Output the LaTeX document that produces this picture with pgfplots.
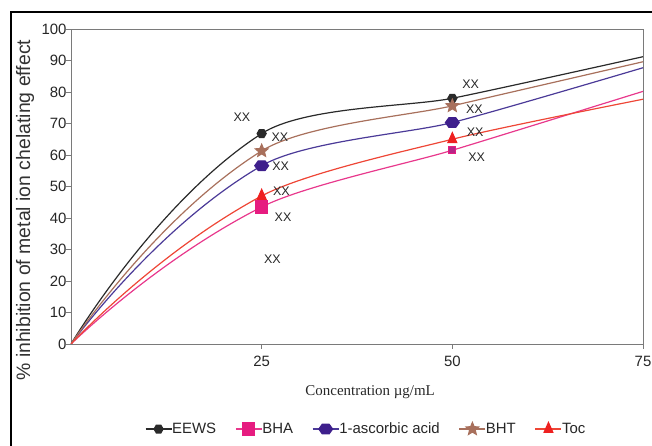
\documentclass[border=0pt]{standalone}
\usepackage{fontspec}
\setmainfont{Liberation Serif}
\setsansfont{Liberation Sans}
\usepackage{pgfplots}
\usepackage{pgfplotstable}
\pgfplotsset{compat=1.18}

\definecolor{ceews}{HTML}{2A2A2A}
\definecolor{cbha}{HTML}{E8388C}
\definecolor{cbham}{HTML}{E61C80}
\definecolor{casc}{HTML}{4B3A98}
\definecolor{cascm}{HTML}{3E1F8C}
\definecolor{cbht}{HTML}{A8705C}
\definecolor{ctoc}{HTML}{EE4636}
\definecolor{ctocm}{HTML}{EE2020}
\definecolor{caxis}{HTML}{7A7A7A}

\pgfplotstableread{
x  eews  bha   asc   bht   toc
0  0     0     0     0     0
25 66.8  43.5  56.6  61.3  47
50 78    61.5  70.3  75.6  65
75 91.2  80.2  87.7  89.6  77.7
}\data

\pgfdeclareplotmark{hex*}{%
 \pgfpathmoveto{\pgfqpoint{\pgfplotmarksize}{0pt}}%
 \pgfpathlineto{\pgfqpoint{0.5\pgfplotmarksize}{0.866\pgfplotmarksize}}%
 \pgfpathlineto{\pgfqpoint{-0.5\pgfplotmarksize}{0.866\pgfplotmarksize}}%
 \pgfpathlineto{\pgfqpoint{-\pgfplotmarksize}{0pt}}%
 \pgfpathlineto{\pgfqpoint{-0.5\pgfplotmarksize}{-0.866\pgfplotmarksize}}%
 \pgfpathlineto{\pgfqpoint{0.5\pgfplotmarksize}{-0.866\pgfplotmarksize}}%
 \pgfpathclose\pgfusepathqfillstroke}
\pgfdeclareplotmark{fstar*}{%
 \pgfpathmoveto{\pgfqpoint{0pt}{\pgfplotmarksize}}%
 \pgfpathlineto{\pgfqpoint{-0.265\pgfplotmarksize}{0.364\pgfplotmarksize}}%
 \pgfpathlineto{\pgfqpoint{-0.951\pgfplotmarksize}{0.309\pgfplotmarksize}}%
 \pgfpathlineto{\pgfqpoint{-0.428\pgfplotmarksize}{-0.139\pgfplotmarksize}}%
 \pgfpathlineto{\pgfqpoint{-0.588\pgfplotmarksize}{-0.809\pgfplotmarksize}}%
 \pgfpathlineto{\pgfqpoint{0pt}{-0.45\pgfplotmarksize}}%
 \pgfpathlineto{\pgfqpoint{0.588\pgfplotmarksize}{-0.809\pgfplotmarksize}}%
 \pgfpathlineto{\pgfqpoint{0.428\pgfplotmarksize}{-0.139\pgfplotmarksize}}%
 \pgfpathlineto{\pgfqpoint{0.951\pgfplotmarksize}{0.309\pgfplotmarksize}}%
 \pgfpathlineto{\pgfqpoint{0.265\pgfplotmarksize}{0.364\pgfplotmarksize}}%
 \pgfpathclose\pgfusepathqfillstroke}

\pgfplotsset{
  meews/.style={mark=hex*, mark size=4.5bp, mark options={fill=ceews, draw=ceews}},
  mbha/.style={mark=square*, mark size=6bp, mark options={fill=cbham, draw=cbham}},
  masc/.style={mark=hex*, mark size=5.5bp, mark options={fill=cascm, draw=cascm, xscale=1.25}},
  mbht/.style={mark=fstar*, mark size=6.5bp, mark options={fill=cbht, draw=cbht}},
  mtoc/.style={mark=triangle*, mark size=5bp, mark options={fill=ctocm, draw=ctocm, yscale=1.3}},
}

\begin{document}
\begin{tikzpicture}[x=1bp,y=1bp]
\path[use as bounding box] (-71,-102) rectangle (581,344);
\draw[line width=2.4bp, black] (-60,-130) -- (-60,332) -- (620,332);
\begin{axis}[
  at={(0,0)}, anchor=south west,
  scale only axis, width=572bp, height=315bp,
  xmin=0, xmax=75, ymin=0, ymax=100,
  xtick={25,50,75}, ytick={0,10,...,100},
  tick align=outside, tick pos=left,
  axis line style={caxis, line width=0.9bp},
  major tick length=5bp,
  tick style={caxis, line width=0.9bp},
  /pgf/number format/assume math mode=true,
  ticklabel style={font=\sffamily\fontsize{15}{15}\selectfont, text=black!85},
  yticklabel style={xshift=4bp},
  xticklabel style={yshift=-4bp},
  ylabel={\% inhibition of metal ion chelating effect},
  ylabel style={at={(axis description cs:-0.0804,0.425)}, anchor=center,
     font=\sffamily\fontsize{19.5}{19.5}\selectfont, text=black!80},
  xlabel={Concentration µg/mL},
  xlabel style={at={(axis description cs:0.523,-0.152)}, anchor=center,
     font=\rmfamily\fontsize{15}{15}\selectfont, text=black!85},
  legend style={at={(axis description cs:0.516,-0.27)}, anchor=center, draw=none, fill=none,
     font=\sffamily\fontsize{15}{15}\selectfont, text=black!85,
     /tikz/every even column/.append style={column sep=17bp},
     /tikz/every odd column/.append style={column sep=-2bp}},
  legend columns=-1,
  legend image code/.code={\draw[#1, mark indices={2}] plot coordinates {(0bp,0bp) (13bp,0bp) (26bp,0bp)};},
  every axis plot/.append style={line width=1.2bp},
]
% curves: left part (0-25) and right part (25-75) drawn from the same data
\begin{scope}
\clip (axis cs:-1,-5) rectangle (axis cs:25,105);
\addplot[forget plot, ceews, smooth, tension=1] table[y=eews]{\data};
\addplot[forget plot, cbha, smooth, tension=1] table[y=bha]{\data};
\addplot[forget plot, casc, smooth, tension=1] table[y=asc]{\data};
\addplot[forget plot, cbht, smooth, tension=1] table[y=bht]{\data};
\addplot[forget plot, ctoc, smooth, tension=1] table[y=toc]{\data};
\end{scope}
\begin{scope}
\clip (axis cs:25,-5) rectangle (axis cs:80,105);
\addplot[forget plot, ceews, smooth, tension=0.4] table[y=eews]{\data};
\addplot[forget plot, cbha, smooth, tension=0.4] table[y=bha]{\data};
\addplot[forget plot, casc, smooth, tension=0.4] table[y=asc]{\data};
\addplot[forget plot, cbht, smooth, tension=0.4] table[y=bht]{\data};
\addplot[forget plot, ctoc, smooth, tension=0.4] table[y=toc]{\data};
\end{scope}
% markers
\addplot[forget plot, only marks, meews, mark indices={2,3}] table[y=eews]{\data};
\addplot[forget plot, only marks, mbha, mark indices={2}] table[y=bha]{\data};
\addplot[forget plot, only marks, mark=square*, mark size=3.5bp, mark options={fill=cbham!70!casc, draw=cbham}, mark indices={3}] table[y=bha]{\data};
\addplot[forget plot, only marks, masc, mark indices={2,3}] table[y=asc]{\data};
\addplot[forget plot, only marks, mbht, mark indices={2,3}] table[y=bht]{\data};
\addplot[forget plot, only marks, mtoc, mark indices={2,3}] table[y=toc]{\data};
% legend
\addlegendimage{ceews, meews}
\addlegendentry{EEWS}
\addlegendimage{cbha, mbha}
\addlegendentry{BHA}
\addlegendimage{casc, masc}
\addlegendentry{1-ascorbic acid}
\addlegendimage{cbht, mbht}
\addlegendentry{BHT}
\addlegendimage{ctoc, mtoc}
\addlegendentry{Toc}
\begin{scope}[font=\sffamily\fontsize{12.5}{12.5}\selectfont, text=black!85]
\node at (axis cs:22.4,72.1) {XX};
\node at (axis cs:27.4,65.7) {XX};
\node at (axis cs:27.5,56.5) {XX};
\node at (axis cs:27.6,48.6) {XX};
\node at (axis cs:27.8,40.3) {XX};
\node at (axis cs:26.4,27.0) {XX};
\node at (axis cs:52.4,82.5) {XX};
\node at (axis cs:52.9,74.6) {XX};
\node at (axis cs:53.0,67.3) {XX};
\node at (axis cs:53.2,59.4) {XX};
\end{scope}
\end{axis}
\end{tikzpicture}
\end{document}
